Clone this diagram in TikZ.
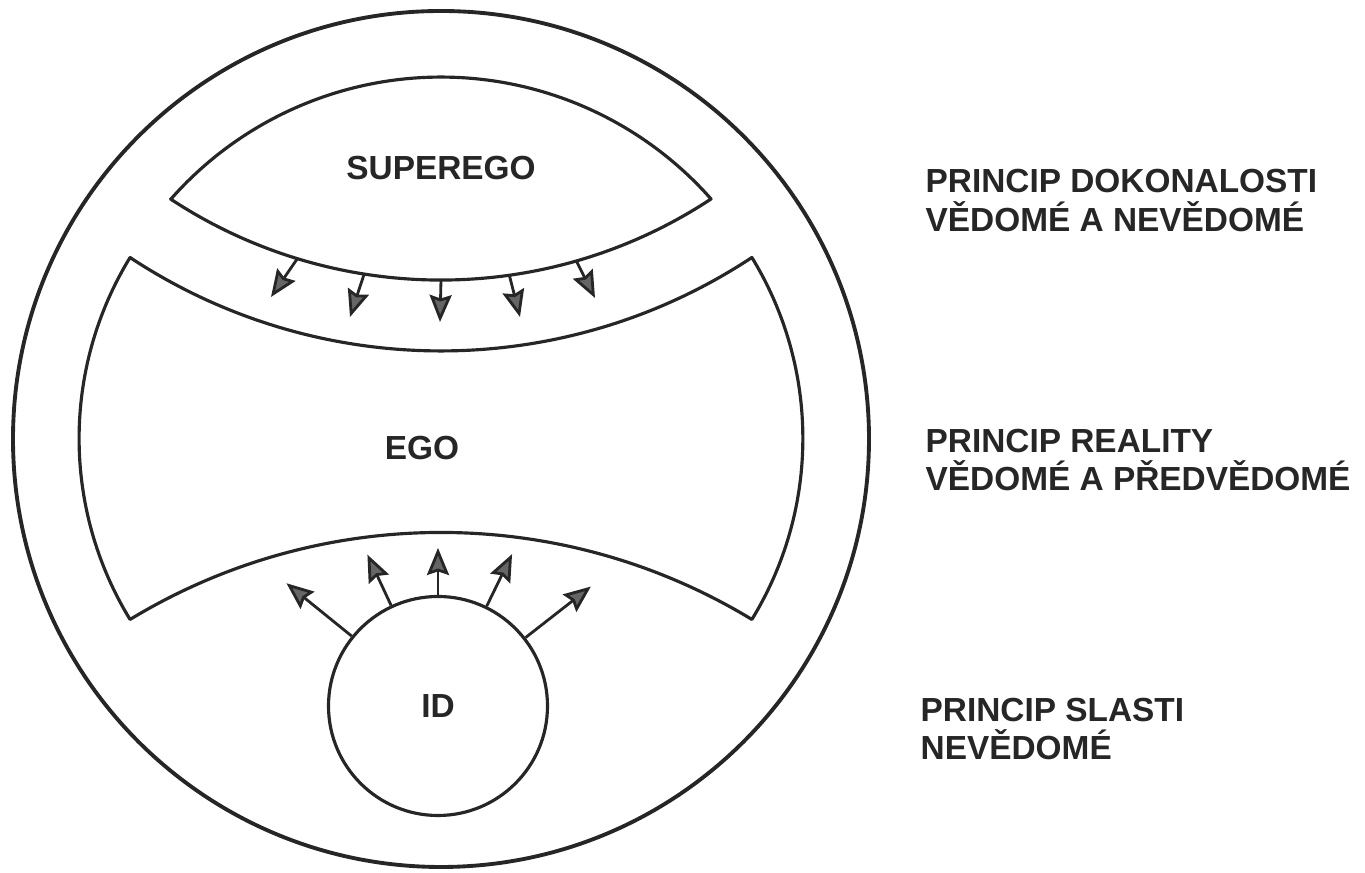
\documentclass[tikz,border=0pt]{standalone}
\usepackage{fontspec}
\setmainfont{Liberation Sans}
\usetikzlibrary{arrows.meta,calc}

\begin{document}
\begin{tikzpicture}[
	ink/.style={draw=\inkColor, line width=0.9pt, line join=round},
	push/.style={draw=\inkColor, line width=0.8pt,
		-{Stealth[length=0.27cm, width=0.22cm, inset=0.035cm, fill=\headColor]}},
	word/.style={font=\bfseries\fontsize{9.5}{11.06}\selectfont, text=\inkColor, inner sep=0pt},
	side/.style={word, align=left, anchor=north west}
]
	
	% ---- Adjustable colors ----
	\def\inkColor{black!85}
	\def\headColor{black!60}
	
	% ---- Page frame ----
	\useasboundingbox (-4.41,-4.34) rectangle (9.24,4.39);
	
	% ---- Outer circle ----
	\draw[ink, line width=1.1pt] (0,0) circle[radius=4.28];
	
	% ---- Superego (lens) ----
	\coordinate (supc) at (0,6.5);
	\draw[ink] (-2.70,2.40) arc[start angle=138.6, end angle=41.4, radius=3.60]
		arc[start angle=-56.6, end angle=-123.4, radius=4.91] -- cycle;
	
	% ---- Ego (four curved sides) ----
	\draw[ink] (-3.11,1.815) arc[start angle=-123.46, end angle=-56.54, radius=5.64]
		arc[start angle=31.47, end angle=-31.47, radius=3.467]
		arc[start angle=58.73, end angle=121.27, radius=5.99]
		arc[start angle=211.47, end angle=148.53, radius=3.467] -- cycle;
	
	% ---- Id (circle) ----
	\node[word, ink, circle, minimum size=2.19cm] (id) at (-0.03,-2.67) {ID};
	
	% ---- Inner labels ----
	\node[word] (superego) at (0,2.71) {SUPEREGO};
	\node[word] (ego) at (-0.19,-0.09) {EGO};
	
	% ---- Side labels ----
	\node[side] (perfection) at (4.84,2.70) {PRINCIP DOKONALOSTI\\VĚDOMÉ A NEVĚDOMÉ};
	\node[side] (reality) at (4.84,0.11) {PRINCIP REALITY\\VĚDOMÉ A PŘEDVĚDOMÉ};
	\node[side] (pleasure) at (4.79,-2.58) {PRINCIP SLASTI\\NEVĚDOMÉ};
	
	% ---- Arrows: superego down into ego ----
	\foreach \i/\ang/\tx/\ty in {
		1/-107/-1.70/1.42,
		2/-99/-0.91/1.22,
		3/-90/-0.01/1.17,
		4/-82/0.79/1.22,
		5/-74/1.54/1.41
	}
	{
		\coordinate (down\i) at (\tx,\ty);
		\draw[push] ($(supc)+(\ang:4.91)$) -- (down\i);
	}
	
	% ---- Arrows: id up into ego ----
	\foreach \ang/\len in {141/1.95, 115/1.67, 90/1.58, 64/1.69, 38/1.94}
	\draw[push] (id.\ang) -- ($(id.center)+(\ang:\len)$);
	
\end{tikzpicture}
\end{document}
